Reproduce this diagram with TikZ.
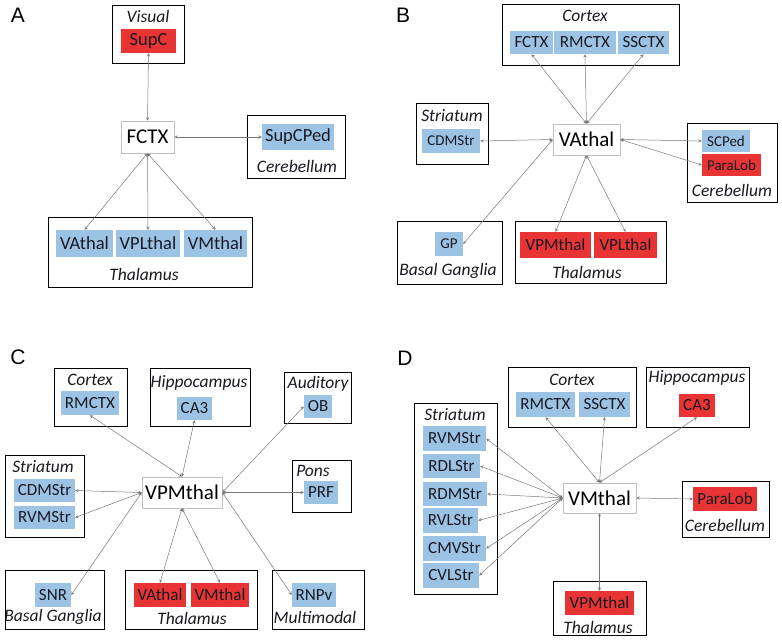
\documentclass[tikz,border=0pt]{standalone}
\usepackage{fontspec}
\setmainfont{Carlito}
\newfontfamily\panelfont{Liberation Sans}
\usepackage{tikz}
\usetikzlibrary{positioning}
\definecolor{cblue}{RGB}{157,195,228}
\definecolor{cred}{RGB}{232,52,52}
\definecolor{ctext}{RGB}{25,25,35}
\definecolor{clink}{RGB}{120,120,120}

\begin{document}
\begin{tikzpicture}[x=1pt, y=-1pt,
    region/.style={draw, line width=0.9pt, inner sep=0pt},
    regionlabel/.style={font=\itshape\fontsize{17.5}{20}\selectfont, text=ctext, inner sep=0pt},
    area/.style={inner sep=0pt, text=ctext, font=\fontsize{17}{20}\selectfont},
    bluearea/.style={area, fill=cblue},
    redarea/.style={area, fill=cred},
    smallarea/.style={font=\fontsize{15}{18}\selectfont},
    largearea/.style={font=\fontsize{18.5}{22}\selectfont},
    hub/.style={draw=black!25, line width=0.6pt, fill=white, inner sep=0pt, font=\fontsize{21}{24}\selectfont},
    panel/.style={font=\panelfont\fontsize{21}{24}\selectfont, inner sep=0pt},
    link/.style={stealth-stealth, draw=clink, line width=0.5pt},
]
\useasboundingbox (0,0) rectangle (782,640);

% ---------------- A
\node[panel] (labA) at (18,15) {A};
\node[region, minimum width=72, minimum height=58] (visualA) at (148,34) {};
\node[regionlabel] (visualtxtA) at (148,16) {Visual};
\node[redarea, largearea, minimum width=55, minimum height=24] (supcA) at (148.5,41) {SupC};
\node[hub, minimum width=53, minimum height=32] (fctxA) at (147.5,137) {FCTX};
\node[region, minimum width=98, minimum height=63] (cerebA) at (296,146.5) {};
\node[bluearea, largearea, minimum width=72, minimum height=26] (supcpedA) at (298,137) {SupCPed};
\node[regionlabel] (cerebtxtA) at (297,166) {Cerebellum};
\node[region, minimum width=204, minimum height=70] (thalA) at (150,252) {};
\node[bluearea, largearea, minimum width=57, minimum height=27] (vathalA) at (84.5,243.5) {VAthal};
\node[bluearea, largearea, minimum width=64, minimum height=27] (vplthalA) at (148,243.5) {VPLthal};
\node[bluearea, largearea, minimum width=63, minimum height=27] (vmthalA) at (215.5,243.5) {VMthal};
\node[regionlabel] (thaltxtA) at (144,274) {Thalamus};

\draw[link] (fctxA.north) -- (supcA.south);
\draw[link] (fctxA.east) -- (supcpedA.west);
\draw[link] (fctxA.south) -- (vathalA.north);
\draw[link] (fctxA.south) -- (vplthalA.north);
\draw[link] (fctxA.south) -- (vmthalA.north);

% ---------------- B
\node[panel] (labB) at (403,15) {B};
\node[region, minimum width=177, minimum height=61] (cortexB) at (590.5,34.5) {};
\node[regionlabel] (cortextxtB) at (585,16) {Cortex};
\node[bluearea, minimum width=43, minimum height=23] (fctxB) at (531.5,42.5) {FCTX};
\node[bluearea, minimum width=62, minimum height=23] (rmctxB) at (585,42.5) {RMCTX};
\node[bluearea, minimum width=51, minimum height=23] (ssctxB) at (643.5,42.5) {SSCTX};
\node[hub, minimum width=67, minimum height=31] (vathalB) at (586.5,139.5) {VAthal};
\node[region, minimum width=72, minimum height=61] (striatB) at (452,133.5) {};
\node[regionlabel] (striattxtB) at (452,116) {Striatum};
\node[bluearea, smallarea, minimum width=58, minimum height=24] (cdmstrB) at (451,141) {CDMStr};
\node[region, minimum width=90, minimum height=79] (cerebB) at (732,162.5) {};
\node[bluearea, smallarea, minimum width=48, minimum height=22] (scpedB) at (726,141) {SCPed};
\node[redarea, smallarea, minimum width=59, minimum height=22] (paralobB) at (731.5,165) {ParaLob};
\node[regionlabel] (cerebtxtB) at (732,190) {Cerebellum};
\node[region, minimum width=105, minimum height=63] (basalB) at (449.5,252.5) {};
\node[bluearea, smallarea, minimum width=28, minimum height=24] (gpB) at (449,244) {GP};
\node[regionlabel] (basaltxtB) at (448,271) {Basal Ganglia};
\node[region, minimum width=151, minimum height=62] (thalB) at (590.5,252) {};
\node[redarea, minimum width=71, minimum height=26] (vpmthalB) at (555.5,245) {VPMthal};
\node[redarea, minimum width=63, minimum height=26] (vplthalB) at (625.5,245) {VPLthal};
\node[regionlabel] (thaltxtB) at (587,272) {Thalamus};

\draw[link] (vathalB.north) -- (fctxB.south);
\draw[link] (vathalB.north) -- (rmctxB.south);
\draw[link] (vathalB.north) -- (ssctxB.south);
\draw[link] (vathalB.west) -- (cdmstrB.east);
\draw[link] (vathalB.west) -- (gpB.east);
\draw[link] (vathalB.east) -- (scpedB.west);
\draw[link] (vathalB.east) -- (paralobB.west);
\draw[link] (vathalB.south) -- (vpmthalB.north);
\draw[link] (vathalB.south) -- (vplthalB.north);

% ---------------- C
\node[panel] (labC) at (18,357) {C};
\node[region, minimum width=73, minimum height=58] (cortexC) at (90.5,397) {};
\node[regionlabel] (cortextxtC) at (90,380) {Cortex};
\node[bluearea, minimum width=58, minimum height=24] (rmctxC) at (90,403) {RMCTX};
\node[region, minimum width=100, minimum height=58] (hippoC) at (200,397) {};
\node[regionlabel] (hippotxtC) at (199,383) {Hippocampus};
\node[bluearea, minimum width=35, minimum height=23] (ca3C) at (194.5,408.5) {CA3};
\node[region, minimum width=67, minimum height=51] (audC) at (317.5,397.5) {};
\node[regionlabel] (audtxtC) at (318,384) {Auditory};
\node[bluearea, minimum width=28, minimum height=23] (obC) at (318,406.5) {OB};
\node[region, minimum width=79, minimum height=82] (striatC) at (44.5,496) {};
\node[regionlabel] (striattxtC) at (43,467) {Striatum};
\node[bluearea, minimum width=61, minimum height=23] (cdmstrC) at (44.5,490.5) {CDMStr};
\node[bluearea, minimum width=61, minimum height=23] (rvmstrC) at (44.5,517.5) {RVMStr};
\node[hub, minimum width=80, minimum height=31] (vpmthalC) at (182,492.5) {VPMthal};
\node[region, minimum width=59, minimum height=52] (ponsC) at (321.5,486) {};
\node[regionlabel] (ponstxtC) at (313,471) {Pons};
\node[bluearea, minimum width=34, minimum height=23] (prfC) at (321,492.5) {PRF};
\node[region, minimum width=99, minimum height=59] (basalC) at (54.5,599.5) {};
\node[bluearea, minimum width=36, minimum height=24] (snrC) at (53,595) {SNR};
\node[regionlabel] (basaltxtC) at (53,617) {Basal Ganglia};
\node[region, minimum width=132, minimum height=59] (thalC) at (191,599.5) {};
\node[redarea, minimum width=52, minimum height=24] (vathalC) at (160,595) {VAthal};
\node[redarea, minimum width=58, minimum height=24] (vmthalC) at (220,595) {VMthal};
\node[regionlabel] (thaltxtC) at (192,618) {Thalamus};
\node[region, minimum width=92, minimum height=59] (multiC) at (318,599.5) {};
\node[bluearea, minimum width=44, minimum height=24] (rnpvC) at (314,595) {RNPv};
\node[regionlabel] (multitxtC) at (315,617) {Multimodal};

\draw[link] (vpmthalC.north) -- (rmctxC.south);
\draw[link] (vpmthalC.north) -- (ca3C.south);
\draw[link] (vpmthalC.east) -- (obC.west);
\draw[link] (vpmthalC.east) -- (prfC.west);
\draw[link] (vpmthalC.east) -- (rnpvC.west);
\draw[link] (vpmthalC.west) -- (cdmstrC.east);
\draw[link] (vpmthalC.west) -- (rvmstrC.east);
\draw[link] (vpmthalC.west) -- (snrC.east);
\draw[link] (vpmthalC.south) -- (vathalC.north);
\draw[link] (vpmthalC.south) -- (vmthalC.north);

% ---------------- D
\node[panel] (labD) at (405,358) {D};
\node[region, minimum width=128, minimum height=60] (cortexD) at (572,397) {};
\node[regionlabel] (cortextxtD) at (572,380) {Cortex};
\node[bluearea, minimum width=59, minimum height=25] (rmctxD) at (545.5,404.5) {RMCTX};
\node[bluearea, minimum width=51, minimum height=25] (ssctxD) at (604.5,404.5) {SSCTX};
\node[region, minimum width=103, minimum height=60] (hippoD) at (697.5,397) {};
\node[regionlabel] (hippotxtD) at (697,378) {Hippocampus};
\node[redarea, minimum width=36, minimum height=23] (ca3D) at (697,405.5) {CA3};
\node[region, minimum width=83, minimum height=191] (striatD) at (455.5,498.5) {};
\node[regionlabel] (striattxtD) at (455,415) {Striatum};
\node[bluearea, minimum width=63, minimum height=25] (rvmstrD) at (454.5,438.5) {RVMStr};
\node[bluearea, minimum width=57, minimum height=24] (rdlstrD) at (451.5,466) {RDLStr};
\node[bluearea, minimum width=64, minimum height=24] (rdmstrD) at (455,494) {RDMStr};
\node[bluearea, minimum width=55, minimum height=25] (rvlstrD) at (450.5,520.5) {RVLStr};
\node[bluearea, minimum width=63, minimum height=25] (cmvstrD) at (454.5,548.5) {CMVStr};
\node[bluearea, minimum width=56, minimum height=25] (cvlstrD) at (451,575.5) {CVLStr};
\node[hub, minimum width=73, minimum height=30] (vmthalD) at (599.5,498) {VMthal};
\node[region, minimum width=87, minimum height=56] (cerebD) at (725.5,509) {};
\node[redarea, minimum width=64, minimum height=24] (paralobD) at (725,499) {ParaLob};
\node[regionlabel] (cerebtxtD) at (725,525) {Cerebellum};
\node[region, minimum width=93, minimum height=54] (thalD) at (599.5,608) {};
\node[redarea, minimum width=69, minimum height=24] (vpmthalD) at (599.5,603) {VPMthal};
\node[regionlabel] (thaltxtD) at (598,627) {Thalamus};

\draw[link] (vmthalD.north) -- (rmctxD.south);
\draw[link] (vmthalD.north) -- (ssctxD.south);
\draw[link] (vmthalD.north) -- (ca3D.south);
\draw[link] (vmthalD.west) -- (rvmstrD.east);
\draw[link] (vmthalD.west) -- (rdlstrD.east);
\draw[link] (vmthalD.west) -- (rdmstrD.east);
\draw[link] (vmthalD.west) -- (rvlstrD.east);
\draw[link] (vmthalD.west) -- (cmvstrD.east);
\draw[link] (vmthalD.west) -- (cvlstrD.east);
\draw[link] (vmthalD.east) -- (paralobD.west);
\draw[link] (vmthalD.south) -- (vpmthalD.north);
\end{tikzpicture}
\end{document}
